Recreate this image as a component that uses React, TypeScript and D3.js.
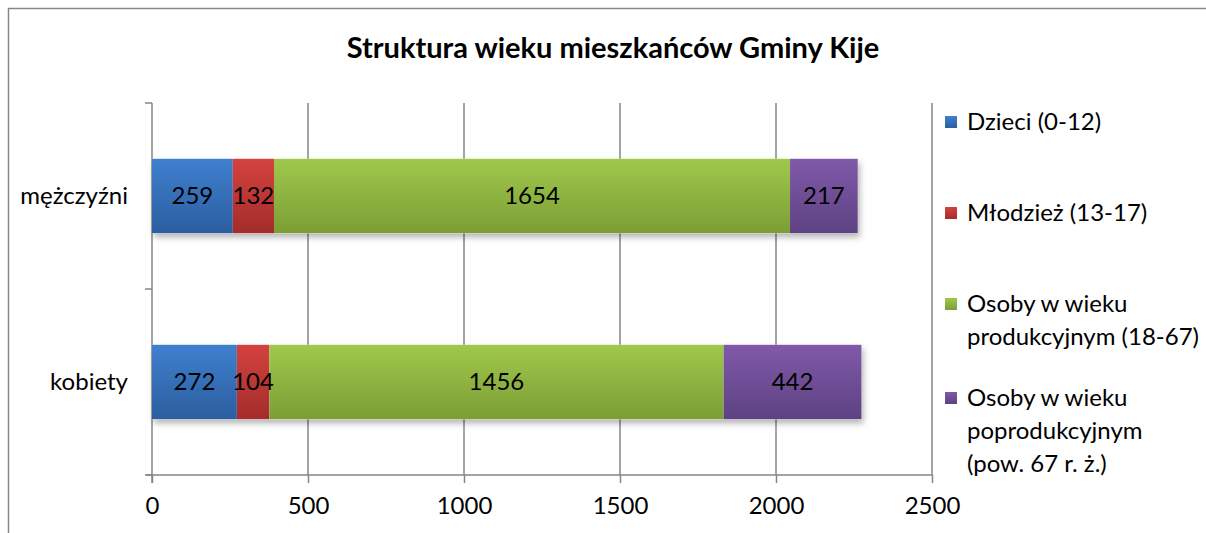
import { useEffect, useRef } from 'react'
import * as d3 from 'd3'

const categories = ['mężczyźni', 'kobiety']
const seriesNames = [
  ['Dzieci (0-12)'],
  ['Młodzież (13-17)'],
  ['Osoby w wieku', 'produkcyjnym (18-67)'],
  ['Osoby w wieku', 'poprodukcyjnym', '(pow. 67 r. ż.)'],
]
const dzieci = [259, 272]
const mlodziez = [132, 104]
const produkcyjny = [1654, 1456]
const poprodukcyjny = [217, 442]
const ticks = [0, 500, 1000, 1500, 2000, 2500]

const colors = [
  ['#3f80cf', '#2b5e9f'],
  ['#d3423f', '#a42c2a'],
  ['#a0c84c', '#7b9e35'],
  ['#8059a9', '#5d4282'],
]

const font = 'Lato, "Open Sans", sans-serif'
const fs = '24px'

export default function App() {
  const ref = useRef<SVGSVGElement>(null)

  useEffect(() => {
    const width = 1206
    const height = 533
    const plot = { left: 152, right: 932, top: 103, bottom: 475 }

    const svg = d3.select(ref.current)
    svg.selectAll('*').remove()
    svg.attr('width', width).attr('height', height)

    const defs = svg.append('defs')
    colors.forEach((c, i) => {
      const g = defs.append('linearGradient')
        .attr('id', `grad${i}`)
        .attr('x1', 0).attr('y1', 0).attr('x2', 0).attr('y2', 1)
      g.append('stop').attr('offset', '0%').attr('stop-color', c[0])
      g.append('stop').attr('offset', '100%').attr('stop-color', c[1])
    })
    const f = defs.append('filter').attr('id', 'shadow')
      .attr('x', '-5%').attr('y', '-20%').attr('width', '110%').attr('height', '150%')
    f.append('feDropShadow')
      .attr('dx', 2).attr('dy', 4).attr('stdDeviation', 3)
      .attr('flood-color', '#000').attr('flood-opacity', 0.3)

    svg.append('rect').attr('width', width).attr('height', height).attr('fill', '#fff')

    // outer frame (right side is off the picture)
    svg.append('rect')
      .attr('x', 8.5).attr('y', 8.5)
      .attr('width', width + 20).attr('height', height + 20)
      .attr('fill', 'none').attr('stroke', '#868686').attr('stroke-width', 1.5)

    svg.append('text')
      .attr('x', 613).attr('y', 58)
      .attr('text-anchor', 'middle')
      .style('font-family', font).style('font-weight', 'bold').style('font-size', '29px')
      .text('Struktura wieku mieszkańców Gminy Kije')

    const x = d3.scaleLinear().domain([0, 2500]).range([plot.left, plot.right])
    const y = d3.scaleBand().domain(categories).range([plot.top, plot.bottom]).paddingInner(0.6).paddingOuter(0.3)
    const yb = d3.scaleBand().domain(categories).range([plot.top, plot.bottom])

    // gridlines
    svg.append('g').selectAll('line')
      .data(ticks.slice(1))
      .join('line')
      .attr('x1', d => x(d)).attr('x2', d => x(d))
      .attr('y1', plot.top).attr('y2', plot.bottom)
      .attr('stroke', '#868686').attr('stroke-width', 1.5)

    // x axis
    const xAxis = d3.axisBottom(x).tickValues(ticks).tickFormat(d3.format('d')).tickSize(8).tickPadding(14)
    const gx = svg.append('g').attr('transform', `translate(0, ${plot.bottom})`).call(xAxis)
    gx.select('.domain').attr('d', `M${plot.left - 6},0H${plot.right}`).attr('stroke', '#868686').attr('stroke-width', 1.5)
    gx.selectAll('.tick line').attr('stroke', '#868686').attr('stroke-width', 1.5)
    gx.selectAll('.tick text').style('font-family', font).style('font-size', fs).attr('fill', '#000')

    // y axis
    const gy = svg.append('g').attr('transform', `translate(${plot.left}, 0)`)
    gy.append('line')
      .attr('x1', 0).attr('x2', 0).attr('y1', plot.top).attr('y2', plot.bottom + 8)
      .attr('stroke', '#868686').attr('stroke-width', 1.5)
    const bounds = [plot.top, ...categories.map(c => (yb(c) as number) + yb.bandwidth())]
    gy.selectAll('line.tk')
      .data(bounds)
      .join('line').attr('class', 'tk')
      .attr('x1', -7).attr('x2', 0).attr('y1', d => d).attr('y2', d => d)
      .attr('stroke', '#868686').attr('stroke-width', 1.5)
    gy.selectAll('text')
      .data(categories)
      .join('text')
      .attr('x', -24)
      .attr('y', d => (y(d) as number) + y.bandwidth() / 2)
      .attr('dy', '0.35em')
      .attr('text-anchor', 'end')
      .style('font-family', font).style('font-size', fs)
      .text(d => d)

    const series = [dzieci, mlodziez, produkcyjny, poprodukcyjny]
    const rows = categories.map((c, i) => {
      let acc = 0
      return series.map((s, k) => {
        const seg = { cat: c, k, v: s[i], x0: acc, x1: acc + s[i] }
        acc += s[i]
        return seg
      })
    })

    const bars = svg.append('g')
    rows.forEach(row => {
      const g = bars.append('g')
      const last = row[row.length - 1]
      g.append('rect')
        .attr('x', x(0)).attr('y', y(row[0].cat) as number)
        .attr('width', x(last.x1) - x(0)).attr('height', y.bandwidth())
        .attr('fill', '#fff').attr('filter', 'url(#shadow)')
      g.selectAll('rect.seg')
        .data(row)
        .join('rect').attr('class', 'seg')
        .attr('x', d => x(d.x0))
        .attr('y', d => y(d.cat) as number)
        .attr('width', d => x(d.x1) - x(d.x0))
        .attr('height', y.bandwidth())
        .attr('fill', d => `url(#grad${d.k})`)
      g.selectAll('text')
        .data(row)
        .join('text')
        .attr('x', d => (x(d.x0) + x(d.x1)) / 2)
        .attr('y', d => (y(d.cat) as number) + y.bandwidth() / 2)
        .attr('dy', '0.35em')
        .attr('text-anchor', 'middle')
        .style('font-family', font).style('font-size', fs)
        .text(d => d.v)
    })

    // legend
    const legendY = [122, 213, 304, 398]
    const lg = svg.append('g').attr('transform', 'translate(945, 0)')
    seriesNames.forEach((lines, i) => {
      lg.append('rect')
        .attr('x', 0).attr('y', legendY[i] - 6)
        .attr('width', 12).attr('height', 12)
        .attr('fill', `url(#grad${i})`)
      const t = lg.append('text')
        .attr('x', 22).attr('y', legendY[i])
        .style('font-family', font).style('font-size', fs)
      lines.forEach((l, j) => {
        t.append('tspan').attr('x', 22).attr('dy', j === 0 ? '0.35em' : '33').text(l)
      })
    })
  }, [])

  return (
    <svg ref={ref} style={{ position: 'absolute', left: 0, top: 0 }}></svg>
  )
}
